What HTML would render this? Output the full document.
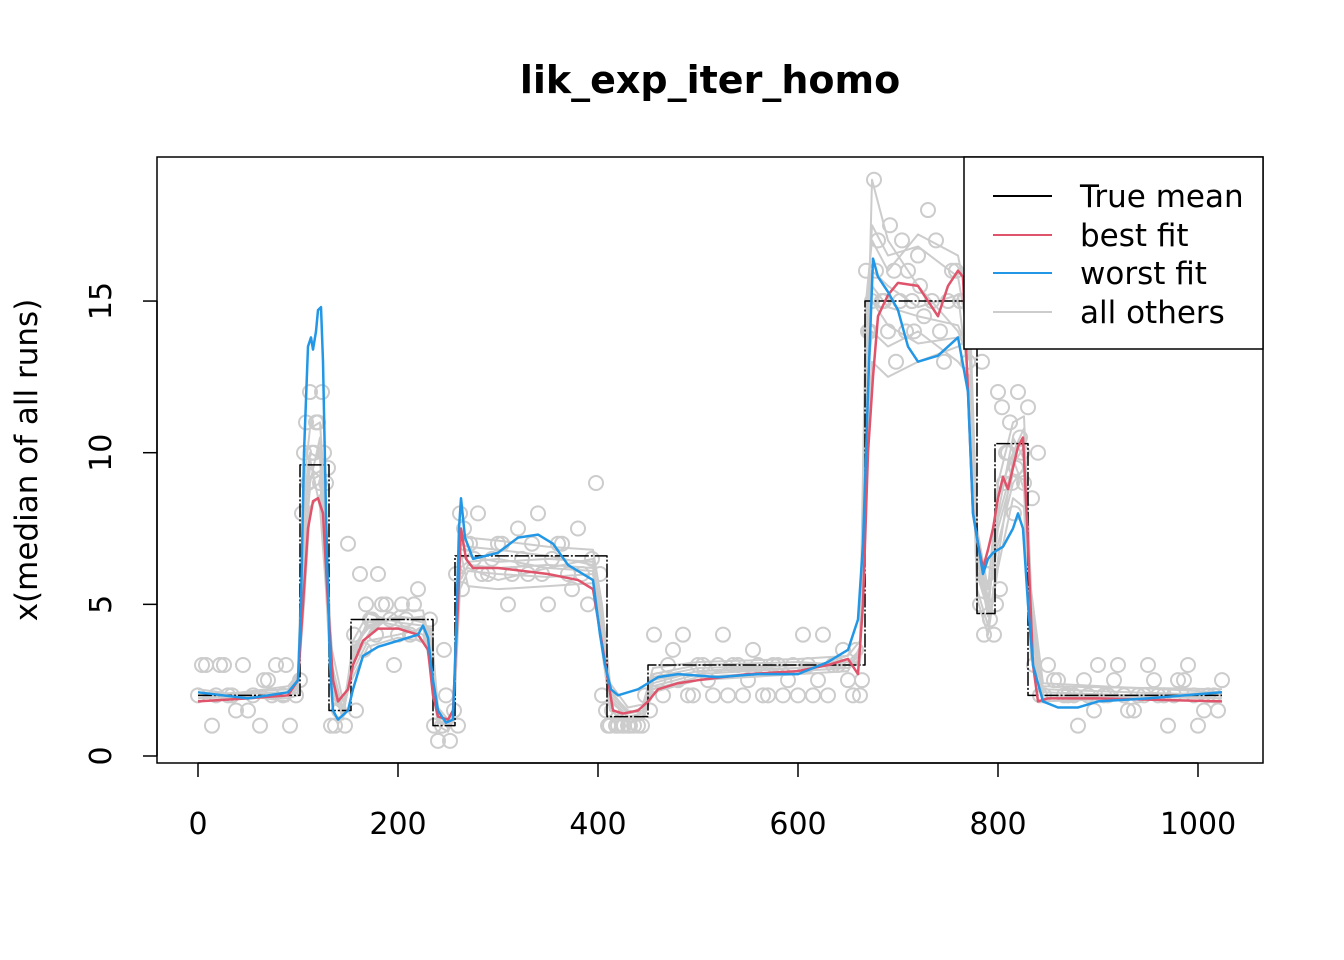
<!DOCTYPE html>
<html><head><meta charset="utf-8">
<style>
html,body{margin:0;padding:0;background:#fff;}
svg{display:block;font-family:"DejaVu Sans","Liberation Sans",sans-serif;}
</style></head>
<body>
<svg id="chart" width="1344" height="960" viewBox="0 0 1344 960" xmlns="http://www.w3.org/2000/svg">
<text x="710" y="93" text-anchor="middle" font-size="38" font-weight="bold">lik_exp_iter_homo</text>
<text transform="translate(37,460) rotate(-90)" text-anchor="middle" font-size="31">x(median of all runs)</text>
<g id="grayLayer"></g>
<g id="pointLayer"></g>
<g id="meanLayer"></g>
<g id="fitLayer"></g>
<g id="axisLayer"></g>
<rect x="157" y="157" width="1106" height="606" fill="none" stroke="#000" stroke-width="1.5"/>
<g>
<rect x="964" y="157" width="299" height="192" fill="#fff" stroke="#000" stroke-width="1.5"/>
<line x1="993" y1="196" x2="1052" y2="196" stroke="#000" stroke-width="2"/>
<text x="1080" y="207" font-size="31">True mean</text>
<line x1="993" y1="235" x2="1052" y2="235" stroke="#DF536B" stroke-width="2"/>
<text x="1080" y="246" font-size="31">best fit</text>
<line x1="993" y1="273" x2="1052" y2="273" stroke="#2297E6" stroke-width="2"/>
<text x="1080" y="284" font-size="31">worst fit</text>
<line x1="993" y1="312" x2="1052" y2="312" stroke="#cccccc" stroke-width="2"/>
<text x="1080" y="323" font-size="31">all others</text>
</g>
</svg>
<script>
const xTicks=[0,200,400,600,800,1000];
const yTicks=[0,5,10,15];
const meanSegments=[[0,102,2],[102,131,9.6],[131,153,1.5],[153,235,4.5],[235,257,1.0],[257,409,6.6],[409,450,1.3],[450,667,3.0],[667,779,15],[779,797,4.7],[797,830,10.3],[830,1024,2]];
const bestX=[0,50,90,100,105,110,115,120,125,130,135,140,150,155,165,180,200,220,230,235,240,250,255,260,263,268,275,300,350,380,395,400,405,410,415,425,440,450,460,480,500,550,600,630,650,660,665,670,675,680,690,700,720,730,740,750,760,765,770,775,780,785,790,795,800,805,810,815,820,825,830,835,840,850,900,1024];
const bestY=[1.8,1.9,2.0,2.5,5,7.5,8.4,8.5,8.0,5,2.5,1.8,2.2,3,3.8,4.2,4.2,4.0,3.5,2,1.3,1.2,1.5,5,7.5,6.5,6.2,6.2,6.0,5.8,5.5,4.5,3.5,2.5,1.5,1.4,1.5,1.8,2.2,2.4,2.5,2.7,2.8,3.0,3.2,2.7,5,10,12.5,14.5,15.2,15.6,15.5,15,14.5,15.5,16,15.8,12,8,7,6.2,6.8,7.5,8.5,9.2,8.8,9.5,10.2,10.5,7,3,1.8,1.9,1.9,1.8];
const worstX=[0,50,90,100,103,106,110,113,115,118,120,123,125,128,132,135,140,150,155,165,180,200,220,225,230,235,240,248,255,258,261,263,267,275,300,320,340,355,370,385,395,402,407,413,420,440,460,480,520,560,600,630,650,660,665,670,675,680,690,700,710,720,740,760,770,775,780,785,790,795,805,815,820,825,830,835,845,860,880,900,950,1024];
const worstY=[2.1,1.9,2.1,2.5,5,10,13.5,13.8,13.4,14,14.7,14.8,13,8,3,1.5,1.2,1.5,2.2,3.3,3.6,3.8,4.0,4.3,3.9,2.5,1.5,1.1,1.2,4,7.5,8.5,7.2,6.5,6.7,7.2,7.3,7.0,6.3,6.0,5.8,4,3,2.2,2.0,2.2,2.6,2.7,2.6,2.7,2.7,3.1,3.5,4.5,7,12,16.4,15.8,15.3,14.7,13.5,13.0,13.2,13.8,12,8,7,6,6.5,6.7,6.9,7.5,8.0,7.5,5,3,1.8,1.6,1.6,1.8,1.9,2.1];
const grayX=[0,90,100,106,112,122,128,134,145,155,170,200,225,233,240,250,256,262,270,300,350,395,404,412,430,445,455,500,600,650,662,668,674,690,720,760,772,779,790,800,815,826,833,845,1024];
const grayA=[2.0,2.1,2.5,8,9.5,9.2,6,2,1.4,3.5,4.4,4.5,4.6,3,1.2,1,1.3,6.5,6.6,6.4,6.5,6.4,4,1.8,1.3,1.4,2.6,2.9,3.0,3.1,3.5,13,16,15.5,14.8,15.2,12,6,4.8,8,10.5,9.8,4,2.0,2.0];
const grayB=[1.9,2.0,2.2,6,9,10.5,7,2.5,1.6,3,4.0,4.8,4.8,3.5,1.3,1.1,1.5,5.5,6.1,6.0,5.9,6.0,4.5,2.2,1.4,1.6,2.4,2.8,2.9,3.2,3.0,11,19,17,15.5,14,13,7,5.2,7,9,9.5,5,2.1,1.9];
const grayC=[2.1,1.9,2.3,7,8.8,9.0,7.5,3,1.5,2.8,3.8,4.0,4.2,3.8,1.5,0.9,1.2,6,6.2,5.8,6.2,6.1,3.5,1.6,1.2,1.3,2.2,2.6,2.8,2.9,3.2,12,14,13.5,14,13,12.5,5.5,4.3,6.5,9.8,8.8,3.5,2.2,2.0];
const grayD=[2.0,2.2,2.6,8.5,10,9.8,6.5,2.2,1.3,3.2,4.5,4.3,4.0,3.2,1.1,1.0,1.4,7,6.9,6.8,6.6,6.3,4.2,2,1.4,1.5,2.7,3.0,3.1,3.0,3.3,14,17.5,16.5,16.8,15.8,13.5,6.5,4.6,8.5,10,10.8,4.5,1.9,2.1];
const grayE=[1.8,2.0,2.1,6.5,9.2,9.4,7,2.8,1.4,3.4,4.3,4.6,4.4,3.6,1.3,1.2,1.6,5.8,6.3,6.2,6.3,6.2,4.8,2.1,1.5,1.4,2.3,2.7,2.9,3.0,3.4,13,15,14.2,13.6,13.8,14.2,6,5,7.5,9.3,9.1,4.2,2.0,1.9];
const grayF=[2.2,1.8,2.4,5,8.2,8.6,6,3.5,1.8,2.6,3.6,3.9,3.8,4.2,1.6,1.2,1.1,6.8,5.6,5.5,5.6,5.7,3.8,1.5,1.1,1.2,2.1,2.5,2.7,2.8,3.6,10,13,12.5,13,13.5,13.8,5.2,4.0,6.2,8.5,8.2,3.2,2.3,2.2];
const grayG=[1.9,2.3,2.7,9,10.8,11,8,2.4,1.2,3.8,4.7,4.4,4.3,2.8,1.0,0.8,1.3,7.5,7.2,7.1,6.9,6.8,5,2.4,1.6,1.7,2.9,3.1,3.2,3.3,3.8,15,17,16,17.2,16.5,14.5,7.5,5.5,9,11,11.2,5.5,2.4,2.1];
const grayH=[2.0,1.9,2.0,7.5,9.8,8.2,5.5,1.8,1.5,3.6,4.2,4.6,4.5,4.0,1.4,1.0,1.5,6.2,6.4,6.5,6.2,6.5,4.4,1.9,1.3,1.3,2.5,2.8,3.0,2.9,3.1,12.5,15.5,14.8,14.5,14.2,13.2,6.8,4.9,7.8,9.6,10.2,4.6,1.8,2.0];
const pointX=[0,8,14,22,30,38,45,55,62,70,78,85,92,98,104,108,112,116,120,124,128,133,137,141,147,156,162,168,174,180,188,196,204,212,220,228,236,240,244,248,252,258,262,266,272,280,290,300,310,320,330,340,350,360,370,380,390,398,404,410,414,420,426,432,440,447,456,465,475,485,495,505,515,525,535,545,555,565,575,585,595,605,615,625,635,645,655,662,668,672,676,680,686,692,698,704,710,716,722,730,738,746,754,762,770,782,786,790,796,800,804,808,812,816,820,824,830,836,842,850,860,870,880,890,900,910,920,930,940,950,960,970,980,990,1000,1010,1020,
4,18,26,34,50,66,74,88,102,106,110,114,118,122,126,130,150,158,166,172,178,184,192,200,208,216,224,232,246,256,260,264,268,276,284,294,304,314,324,334,344,354,364,374,384,394,402,408,412,418,424,430,436,444,452,460,470,480,490,500,510,520,530,540,550,560,570,580,590,600,610,620,630,640,650,658,664,670,674,678,684,690,696,702,708,714,720,726,734,742,750,758,766,774,784,788,792,798,802,806,810,814,818,822,826,834,840,846,856,866,876,886,896,906,916,926,936,946,956,966,976,986,996,1006,1016,1024];
const pointY=[2,3,1,3,2,1.5,3,2,1,2.5,3,2,1,2,8,11,12,10,11,12,9,1,1,1.5,1,4,6,5,4.5,6,5,3,5,4,5.5,4,1,0.5,1,2,0.5,6,8,7.5,7,8,6,7,5,7.5,6,8,5,7,6,7.5,5,9,2,1,1.5,1,1,1,1,2,4,2,3.5,4,2,3,2,4,3,2,3.5,2,3,2,3,4,2,4,3,3.5,2,2,16,14,19,17,15,17.5,13,17,16,14,15.5,18,17,13,16,15,13,5,4,6,4,12,11.5,10,11,8,12,10,11.5,3,2,3,2.5,2,1,2,3,2,3,1.5,2,3,2,1,2.5,3,1,2,1.5,3,
2,3,2,1.5,2.5,2,3,2.5,10,9,10,11,9,10,9.5,7,1.5,3.5,4.5,4,5,4.5,4,4.5,5,4,4.5,3.5,1.5,1,5.5,7,6.5,6,6.5,7,6,6.5,7,6,6.5,7,5.5,6,6.5,6,1.5,1,1,1,1,1,1,1.5,2.5,3,2.5,2,3,2.5,3,2,3,2.5,3,2,3,2.5,2,3,2.5,2,3,2.5,3.5,2.5,14,15,16,15,14,16,15,14,15,16.5,14.5,15,14,15,16,15,14,13,6,4.5,5,5.5,9,10,9,9.5,10.5,9,8.5,10,2,2.5,2,2,2.5,1.5,2,2.5,2,1.5,2,2.5,2,2,2.5,2,1.5,2,2.5,2];
</script>
<script>
const X0=157,X1=1263,Y0=157,Y1=763;
function sx(v){return 198+v*1.0;}
function sy(v){return 756-v*30.33;}
const NS='http://www.w3.org/2000/svg';
function mk(tag,parent){const e=document.createElementNS(NS,tag);parent.appendChild(e);return e;}
const axis=document.getElementById('axisLayer');
let xl=mk('line',axis);xl.setAttribute('x1',sx(xTicks[0]));xl.setAttribute('x2',sx(xTicks[xTicks.length-1]));xl.setAttribute('y1',Y1);xl.setAttribute('y2',Y1);xl.setAttribute('stroke','#000');xl.setAttribute('stroke-width','1.5');


xTicks.forEach(t=>{
 const l=mk('line',axis);l.setAttribute('x1',sx(t));l.setAttribute('x2',sx(t));l.setAttribute('y1',Y1);l.setAttribute('y2',Y1+14);l.setAttribute('stroke','#000');l.setAttribute('stroke-width','1.5');
 
 
 const tx=mk('text',axis);tx.setAttribute('x',sx(t));tx.setAttribute('y',834);tx.setAttribute('text-anchor','middle');tx.setAttribute('font-size','30');tx.textContent=t;
 
 
});
let yl=mk('line',axis);yl.setAttribute('x1',X0);yl.setAttribute('x2',X0);yl.setAttribute('y1',sy(yTicks[0]));yl.setAttribute('y2',sy(yTicks[yTicks.length-1]));yl.setAttribute('stroke','#000');yl.setAttribute('stroke-width','1.5');


yTicks.forEach(t=>{
 const l=mk('line',axis);l.setAttribute('x1',X0-14);l.setAttribute('x2',X0);l.setAttribute('y1',sy(t));l.setAttribute('y2',sy(t));l.setAttribute('stroke','#000');l.setAttribute('stroke-width','1.5');
 
 
 const tx=mk('text',axis);tx.setAttribute('transform','translate(111,'+sy(t)+') rotate(-90)');tx.setAttribute('text-anchor','middle');tx.setAttribute('font-size','30');tx.textContent=t;
 
 
});
function poly(parent,xs,ys,color,w,name){
 const p=mk('polyline',parent);
 p.setAttribute('points',xs.map((x,i)=>sx(x)+','+sy(ys[i])).join(' '));
 p.setAttribute('fill','none');p.setAttribute('stroke',color);p.setAttribute('stroke-width',w);p.setAttribute('stroke-linejoin','round');
 
 
 return p;
}
const gl=document.getElementById('grayLayer');
[grayA,grayB,grayC,grayD,grayE,grayF,grayG,grayH].forEach(ys=>poly(gl,grayX,ys,'#cccccc',2,'other-run-line'));
const pl=document.getElementById('pointLayer');
pointX.forEach((x,i)=>{
 const c=mk('circle',pl);c.setAttribute('cx',sx(x));c.setAttribute('cy',sy(pointY[i]));c.setAttribute('r',7);c.setAttribute('fill','none');c.setAttribute('stroke','#cccccc');c.setAttribute('stroke-width','2');
 
 
});
const ml=document.getElementById('meanLayer');
let mx=[],my=[];
meanSegments.forEach(s=>{mx.push(s[0],s[1]);my.push(s[2],s[2]);});
poly(ml,mx,my,'#000','1.5','true-mean-line').setAttribute('stroke-dasharray','14,2,2,2');
const fl=document.getElementById('fitLayer');
poly(fl,bestX,bestY,'#DF536B','2.5','best-fit-line');
poly(fl,worstX,worstY,'#2297E6','2.5','worst-fit-line');
</script>
</body></html>
